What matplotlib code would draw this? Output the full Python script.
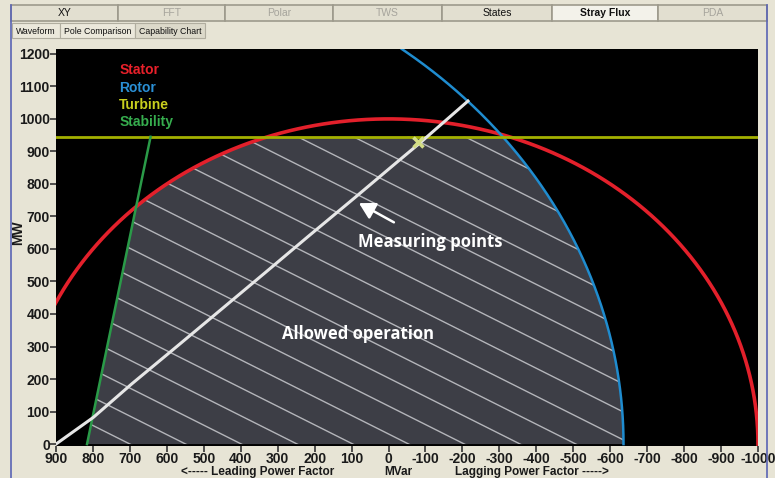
import numpy as np
import matplotlib
matplotlib.use("Agg")
import matplotlib.pyplot as plt
from matplotlib.patches import Polygon, Rectangle

plt.rcParams['font.family'] = ['Liberation Sans', 'DejaVu Sans']

# limits (MVar, MW)
stator_radius = 1000
rotor_center = 894
rotor_radius = 1530
turbine_mw = 945
stability_q = [816, 644]
stability_p = [0, 945]

# measuring points (white trace)
meas_q = [900, 799, 695, 573, 456, 334, 218, 91, -26, -85, -215]
meas_p = [0, 82, 185, 300, 411, 527, 638, 758, 870, 926, 1055]
current_q = [-80]
current_p = [930]

x_ticks = [900, 800, 700, 600, 500, 400, 300, 200, 100, 0, -100, -200,
           -300, -400, -500, -600, -700, -800, -900, -1000]
y_ticks = list(range(0, 1201, 100))

top_tabs = ["XY", "FFT", "Polar", "TWS", "States", "Stray Flux", "PDA"]
top_tab_edges = [11, 118, 225, 333, 442, 552, 658, 767]
sub_tabs = ["Waveform", "Pole Comparison", "Capability Chart"]
sub_tab_edges = [12, 60, 135, 205]

W, H = 775, 478
bg = '#e7e4d5'
fig = plt.figure(figsize=(W / 100, H / 100), dpi=100, facecolor=bg)


def fx(px):
    return px / W


def fy(py):
    return 1 - py / H


# window chrome: tabs and border
for i, name in enumerate(top_tabs):
    x0, x1 = top_tab_edges[i], top_tab_edges[i + 1]
    active = name == "Stray Flux"
    fig.patches.append(Rectangle((fx(x0), fy(21)), fx(x1 - x0), 16 / H,
                                 transform=fig.transFigure,
                                 facecolor='#f3f2ea' if active else '#e2dfd0',
                                 edgecolor='#9d9a8c', lw=1.2))
    col = '#111111' if name in ("XY", "States", "Stray Flux") else '#a6a49c'
    fig.text(fx((x0 + x1) / 2), fy(13), name, ha='center', va='center',
             fontsize=7.5, color=col, fontweight='bold' if active else 'normal')

for i, name in enumerate(sub_tabs):
    x0, x1 = sub_tab_edges[i], sub_tab_edges[i + 1]
    fig.patches.append(Rectangle((fx(x0), fy(38)), fx(x1 - x0), 15 / H,
                                 transform=fig.transFigure,
                                 facecolor='#dcd9ca' if i == 2 else '#ebe8db',
                                 edgecolor='#b0ad9f', lw=0.8))
    fig.text(fx((x0 + x1) / 2), fy(31), name, ha='center', va='center',
             fontsize=6.3, color='#111111')

fig.lines.append(plt.Line2D([fx(11), fx(11)], [0, fy(5)], transform=fig.transFigure,
                            color='#5a64b4', lw=1.2))
fig.lines.append(plt.Line2D([fx(767), fx(767)], [0, fy(5)], transform=fig.transFigure,
                            color='#5a64b4', lw=1.2))

ax = fig.add_axes([fx(56), fy(446), fx(758 - 56), (446 - 49) / H])
ax.set_facecolor('black')
ax.set_xlim(900, -1000)
ax.set_ylim(-6, 1215)

# allowed operation area
p = np.linspace(0, turbine_mw, 300)
stab = np.interp(p, stability_p, stability_q)
left = np.minimum(stab, np.sqrt(stator_radius ** 2 - p ** 2))
right = np.maximum(rotor_center - np.sqrt(rotor_radius ** 2 - p ** 2),
                   -np.sqrt(stator_radius ** 2 - p ** 2))
poly_xy = np.vstack([np.column_stack([left, p]), np.column_stack([right, p])[::-1]])
area = Polygon(poly_xy, closed=True, facecolor='#3d3e46', edgecolor='none', zorder=1)
ax.add_patch(area)

qq = np.array([-800, 950])
for b in np.arange(-399 - 86 * 2, 1500, 86):
    ln, = ax.plot(qq, b + 0.57 * qq, color='#b4b5ba', lw=1, zorder=2)
    ln.set_clip_path(area)

# limit curves
t = np.linspace(0, np.pi, 400)
ax.plot(stator_radius * np.cos(t), stator_radius * np.sin(t), color='#e3202b', lw=2.6, zorder=4)
pr = np.linspace(0, 1215, 300)
ax.plot(rotor_center - np.sqrt(rotor_radius ** 2 - pr ** 2), pr, color='#1f8ccf', lw=1.8, zorder=4)
ax.axhline(turbine_mw, color='#a3b000', lw=2, zorder=4)
ax.plot(stability_q, stability_p, color='#2a9a48', lw=1.8, zorder=4)

ax.plot(meas_q, meas_p, color='#e6e6e6', lw=2.2, zorder=5)
ax.plot(current_q, current_p, marker='x', ms=7, mew=2.5, color='#d4de86', zorder=6)

# curve labels
labels = [("Stator", '#e8202a', 1151), ("Rotor", '#2a8fd4', 1096),
          ("Turbine", '#c8cf1e', 1044), ("Stability", '#36ad4e', 989)]
for txt, col, yv in labels:
    ax.text(729, yv, txt, color=col, fontsize=10, fontweight='bold', ha='left', va='center')

ax.annotate("Measuring points", xy=(80, 741), xytext=(-112, 621), color='white',
            fontsize=12, fontweight='bold', family=['Open Sans', 'DejaVu Sans'],
            ha='center', va='center', zorder=7,
            arrowprops=dict(arrowstyle='-|>,head_width=0.45,head_length=0.8',
                            color='white', lw=1.8, shrinkA=12, shrinkB=0))
ax.text(83, 337, "Allowed operation", color='white', fontsize=12, fontweight='bold',
        family=['Open Sans', 'DejaVu Sans'], ha='center', va='center', zorder=7)

ax.set_xticks(x_ticks)
ax.set_xticklabels([str(v) for v in x_ticks])
ax.set_yticks(y_ticks)
ax.tick_params(colors='#333333', length=4, width=1.2, labelsize=10, pad=0.5)
for lab in ax.get_xticklabels() + ax.get_yticklabels():
    lab.set_fontweight('bold')
    lab.set_color('#1a1a1a')
for s in ax.spines.values():
    s.set_visible(False)

fig.text(fx(18), fy(233), "MW", rotation=90, ha='center', va='center',
         fontsize=10, fontweight='bold', color='#1a1a1a')
xlab_parts = [("<----- Leading Power Factor", 258), ("MVar", 398),
              ("Lagging Power Factor ----->", 532)]
for txt, px in xlab_parts:
    fig.text(fx(px), fy(478), txt, ha='center', va='bottom', fontsize=8.5,
             fontweight='bold', color='#1a1a1a')

fig.savefig("out.png", dpi=100, facecolor=bg)
